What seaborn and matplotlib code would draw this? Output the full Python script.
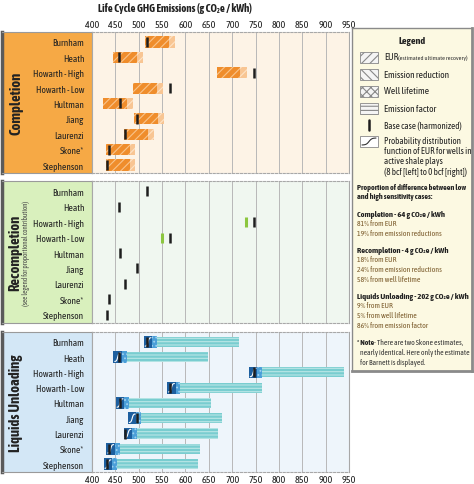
import numpy as np
import pandas as pd
import seaborn as sns
import matplotlib.pyplot as plt
from matplotlib.patches import Rectangle

## data (g CO2e / kWh)
studies = ["Burnham", "Heath", "Howarth - High", "Howarth - Low", "Hultman",
           "Jiang", "Laurenzi", "Skone*", "Stephenson"]
base_case = [517, 457, 746, 566, 459, 496, 470, 436, 433]

# completion sensitivity: low end, EUR share, emission reduction share
comp_start = [514, 445, 667, 488, 424, 490, 469, 429, 429]
comp_eur = [50, 51, 50, 51, 50, 51, 51, 52, 52]
comp_red = [13, 13, 14, 13, 13, 13, 13, 12, 12]

# recompletion: low-case marks that differ from the base case
recomp_low = [np.nan, np.nan, 729, 549, np.nan, np.nan, np.nan, np.nan, np.nan]

# liquids unloading: low end, EUR share, well lifetime share, high end
liq_start = [511, 446, 736, 561, 451, 477, 468, 431, 425]
liq_eur = [18, 18, 18, 18, 18, 18, 18, 18, 18]
liq_life = [10, 10, 10, 10, 10, 10, 10, 10, 10]
liq_end = [714, 649, 939, 764, 654, 679, 670, 632, 626]

xticks = [400, 450, 500, 550, 600, 650, 700, 750, 800, 850, 900, 950]

df = pd.DataFrame({"study": studies, "base": base_case, "row": range(len(studies)),
                   "recomp": recomp_low})

sns.set_style("white")
plt.rcParams['font.family'] = ['Asap Condensed', 'DejaVu Sans']
plt.rcParams['hatch.linewidth'] = 0.8

W, H = 474, 485
fig = plt.figure(figsize=(W / 100, H / 100), dpi=100)

def fx(px):
    return px / W

def panel(top, bot, lab_col, bg_col, title, sub=None):
    b = 1 - bot / H
    h = (bot - top) / H
    lab = fig.add_axes([fx(2), b, fx(90), h])
    lab.set_facecolor(lab_col)
    lab.set_xticks([]); lab.set_yticks([])
    for s in lab.spines.values():
        s.set_color("#9a9a9a"); s.set_linewidth(0.8)
    lab.spines["left"].set_color("#5a5a5a"); lab.spines["left"].set_linewidth(2.5)
    if sub is None:
        lab.text(0.16, 0.5, title, rotation=90, ha="center", va="center",
                 fontsize=10.5, fontweight="bold", color="#222")
    else:
        lab.text(0.15, 0.5, title, rotation=90, ha="center", va="center",
                 fontsize=10.5, fontweight="bold", color="#222")
        lab.text(0.27, 0.5, sub, rotation=90, ha="center", va="center",
                 fontsize=5, color="#444")
    ax = fig.add_axes([fx(92), b, fx(257), h])
    ax.set_facecolor(bg_col)
    ax.set_xlim(400, 950)
    ax.set_ylim(8.52, -0.65)
    ax.set_xticks(xticks)
    ax.grid(axis="x", color="#b8b8b8", lw=0.7)
    ax.grid(axis="y", visible=False)
    ax.set_yticks(range(len(studies)), studies)
    ax.tick_params(axis="y", length=0, pad=5.5, labelsize=6.8, labelcolor="#222")
    ax.tick_params(axis="x", length=0, labelbottom=False, labelsize=7.3,
                   labelcolor="#222", pad=2)
    for s in ax.spines.values():
        s.set_color("#a8a8a8"); s.set_linewidth(0.8)
    ax.spines["top"].set_linestyle((0, (2, 1.5)))
    ax.spines["bottom"].set_linestyle((0, (2, 1.5)))
    ax.set_axisbelow(True)
    return ax

def base_marks(ax, color="#1e1e1e"):
    sns.scatterplot(data=df, x="base", y="row", marker="|", s=60, linewidth=1.8,
                    color=color, ax=ax, zorder=5, legend=False)
    ax.set_xlabel(""); ax.set_ylabel("")

# ---------- Completion ----------
ax1 = panel(33, 174, "#f6a945", "#fdf3e6", "Completion")
rows = np.arange(len(studies))
e1 = np.array(comp_start) + np.array(comp_eur)
ax1.barh(rows, comp_eur, left=comp_start, height=0.72, color="#ef8d2c",
         edgecolor="#f9c48a", hatch="////", lw=0, zorder=2)
ax1.barh(rows, comp_red, left=e1, height=0.72, color="#f8c593",
         edgecolor="#fde3c6", hatch="////", lw=0, zorder=2)
base_marks(ax1)
ax1.tick_params(axis="x", labeltop=True)

# ---------- Recompletion ----------
ax2 = panel(182, 324, "#d9f0bd", "#f0f7f0", "Recompletion",
            "(see legend for proportional contribution)")
sns.scatterplot(data=df, x="recomp", y="row", marker="|", s=60, linewidth=2.2,
                color="#8cc63f", ax=ax2, zorder=5, legend=False)
base_marks(ax2)

# ---------- Liquids Unloading ----------
ax3 = panel(333, 473, "#d3e7f6", "#eef5fb", "Liquids Unloading")
s3 = np.array(liq_start)
e_eur = s3 + np.array(liq_eur)
e_life = e_eur + np.array(liq_life)
ax3.barh(rows, np.array(liq_end) - e_life, left=e_life, height=0.66, color="#79cdd0",
         edgecolor="#b9e6e6", hatch="-----", lw=0, zorder=2)
ax3.barh(rows, liq_life, left=e_eur, height=0.78, color="#4b9fd8",
         edgecolor="#9fd0f0", hatch="....", lw=0, zorder=3)
ax3.barh(rows, liq_eur, left=s3, height=0.78, color="#1d5f9f", lw=0, zorder=3)
# small cumulative-distribution glyph inside the EUR segment
t = np.linspace(0, 1, 20)
for r, x0, w in zip(rows, s3, liq_eur):
    ax3.plot(x0 + w * (0.15 + 0.7 * t), r + 0.28 - 0.56 / (1 + np.exp(-10 * (t - 0.5))),
             color="white", lw=0.8, zorder=4)
base_marks(ax3)
ax3.tick_params(axis="x", labelbottom=True)

fig.text(fx(175), 1 - 8 / H, "Life Cycle GHG Emissions (g CO₂e / kWh)",
         ha="center", va="center", fontsize=7.8, fontweight="bold", color="#222")

# ---------- Legend box ----------
lg = fig.add_axes([fx(352), 1 - 372 / H, fx(120), (372 - 29) / H])
lg.set_xlim(0, 120); lg.set_ylim(343, 0)
lg.set_facecolor("#fcf9e2")
lg.set_xticks([]); lg.set_yticks([])
for s in lg.spines.values():
    s.set_color("#8a8a8a"); s.set_linewidth(1.0)
lg.spines["right"].set_linewidth(2); lg.spines["bottom"].set_linewidth(2)

lg.text(60, 13, "Legend", ha="center", va="center", fontsize=7.3, fontweight="bold", color="#222")
swatches = [("////", "EUR", 29), ("\\\\\\\\", "Emission reduction", 46),
            ("xxxx", "Well lifetime", 63), ("----", "Emission factor", 80)]
for hatch, name, y in swatches:
    lg.add_patch(Rectangle((8, y - 5.5), 18, 11, facecolor="#f4f4f4", edgecolor="#888",
                           hatch=hatch, lw=0.6))
    lg.text(32, y, name, ha="left", va="center", fontsize=6.8, color="#222")
lg.text(46, 29.5, "(estimated ultimate recovery)", ha="left", va="center", fontsize=4.6, color="#333")
lg.plot([17, 17], [92, 102], color="#1e1e1e", lw=1.8)
lg.text(32, 97, "Base case (harmonized)", ha="left", va="center", fontsize=6.5, color="#222")
lg.add_patch(Rectangle((8, 108), 18, 11, facecolor="white", edgecolor="#888", lw=0.6))
lg.plot(10 + 14 * t, 117 - 7 / (1 + np.exp(-10 * (t - 0.5))), color="#333", lw=0.8)
for i, line in enumerate(["Probability distribution", "function of EUR for wells in",
                          "active shale plays", "(8 bcf [left] to 0 bcf [right])"]):
    lg.text(32, 113 + 10 * i, line, ha="left", va="center", fontsize=6.5, color="#222")

lg.text(5, 159, "Proportion of difference between low", ha="left", va="center",
        fontsize=5.8, fontweight="bold", color="#222")
lg.text(5, 168, "and high sensitivity cases:", ha="left", va="center",
        fontsize=5.8, fontweight="bold", color="#222")
blocks = [("Completion - 64 g CO₂e / kWh", ["81% from EUR", "19% from emission reductions"], 186),
          ("Recompletion - 4 g CO₂e / kWh",
           ["18% from EUR", "24% from emission reductions", "58% from well lifetime"], 222),
          ("Liquids Unloading - 202 g CO₂e / kWh",
           ["9% from EUR", "5% from well lifetime", "86% from emission factor"], 268)]
for head, lines, y in blocks:
    lg.text(5, y, head, ha="left", va="center", fontsize=6.0, fontweight="bold", color="#222")
    for i, line in enumerate(lines):
        lg.text(5, y + 9.5 * (i + 1), line, ha="left", va="center", fontsize=5.6, color="#7a5a2a")

lg.text(5, 314, "* Note", ha="left", va="center", fontsize=5.5, fontweight="bold", color="#222")
lg.text(22, 314, "- There are two Skone estimates,", ha="left", va="center", fontsize=5.5, color="#333")
lg.text(8, 324, "nearly identical. Here only the estimate", ha="left", va="center", fontsize=5.5, color="#333")
lg.text(8, 334, "for Barnett is displayed.", ha="left", va="center", fontsize=5.5, color="#333")

fig.savefig("out.png", dpi=100)
